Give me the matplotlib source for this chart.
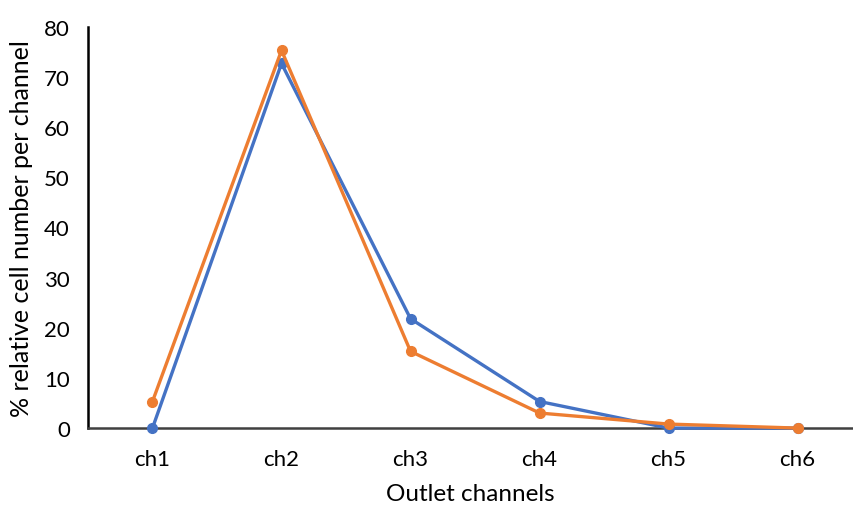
import matplotlib
matplotlib.use("Agg")
import matplotlib.pyplot as plt

channels = ["ch1", "ch2", "ch3", "ch4", "ch5", "ch6"]
series_blue = [0.0, 72.7, 21.8, 5.3, 0.0, 0.0]
series_orange = [5.3, 75.3, 15.3, 3.0, 0.8, 0.0]
y_ticks = [0, 10, 20, 30, 40, 50, 60, 70, 80]

plt.rcParams["font.family"] = ["Lato", "DejaVu Sans"]

fig = plt.figure(figsize=(8.54, 5.06), dpi=100)
ax = fig.add_axes([0.103, 0.152, 0.896, 0.793])

x = list(range(len(channels)))
ax.plot(x, series_blue, color="#4472C4", lw=2.4, marker="o", ms=7, zorder=3,
        clip_on=False)
ax.plot(x, series_orange, color="#ED7D31", lw=2.4, marker="o", ms=7, zorder=4,
        clip_on=False)

ax.set_xlim(-0.5, 5.43)
ax.set_ylim(0, 80)
ax.set_xticks(x)
ax.set_xticklabels(channels)
ax.set_yticks(y_ticks)
ax.tick_params(axis="both", length=0, labelsize=16, colors="#000000")
ax.tick_params(axis="x", pad=15)
ax.tick_params(axis="y", pad=13)

for side in ("top", "right"):
    ax.spines[side].set_visible(False)
ax.spines["left"].set_color("#000000")
ax.spines["left"].set_linewidth(1.8)
ax.spines["bottom"].set_color("#404040")
ax.spines["bottom"].set_linewidth(1.8)

ax.set_xlabel("Outlet channels", fontsize=17.5, labelpad=10)
ax.set_ylabel("% relative cell number per channel", fontsize=18, labelpad=8)

fig.savefig("out.png", dpi=100)
